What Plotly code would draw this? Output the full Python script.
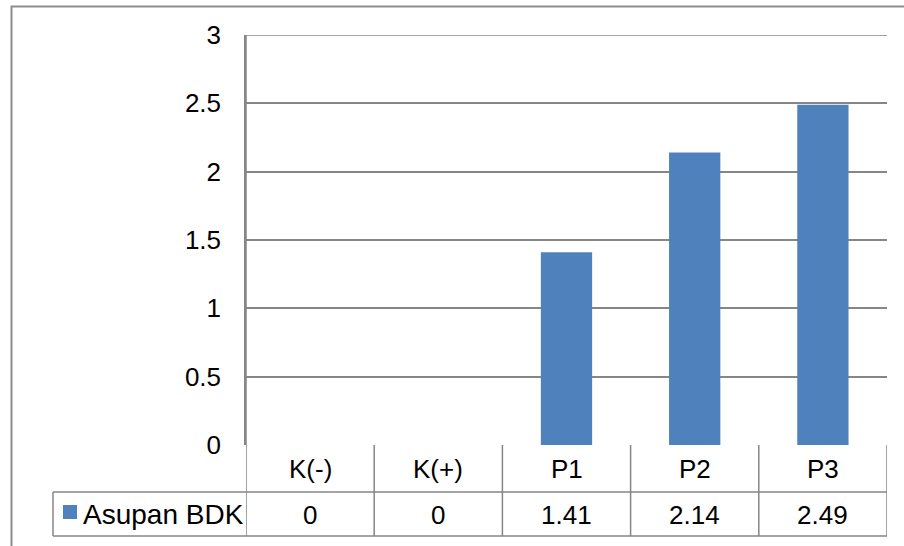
import plotly.graph_objects as go

# Data
categories = ["K(-)", "K(+)", "P1", "P2", "P3"]
asupan_bdk = [0, 0, 1.41, 2.14, 2.49]
series_name = "Asupan BDK"
y_ticks = [0, 0.5, 1, 1.5, 2, 2.5, 3]

BAR_COLOR = "#4F81BD"
GRID = "#868686"
FONT = "Liberation Sans, Arial, sans-serif"

W, H = 904, 546
L, R, T, B = 246, 17, 35, 101
plot_h = H - T - B


def py(px):
    """Convert a pixel row (from the top) to paper y."""
    return (H - B - px) / plot_h


def pxx(px):
    """Convert a pixel column to paper x."""
    return (px - L) / (W - L - R)


fig = go.Figure(
    go.Bar(
        x=categories,
        y=asupan_bdk,
        width=0.4,
        marker=dict(color=BAR_COLOR, line=dict(width=0)),
        name=series_name,
        showlegend=False,
    )
)

shapes = []
annotations = []

# Outer chart frame
shapes.append(dict(type="rect", xref="paper", yref="paper",
                   x0=pxx(11.5), x1=pxx(W + 20), y0=py(H + 20), y1=py(6.5),
                   line=dict(color="#8C8C8C", width=2), fillcolor="rgba(0,0,0,0)",
                   layer="below"))

# Gridline at the top of the value range
shapes.append(dict(type="line", xref="paper", yref="y",
                   x0=0, x1=1, y0=y_ticks[-1], y1=y_ticks[-1],
                   line=dict(color=GRID, width=1.5)))

row1_bottom = py(492)
row2_bottom = py(536)
n = len(categories)

# Data table: horizontal rules
for yv in (row1_bottom, row2_bottom):
    shapes.append(dict(type="line", xref="paper", yref="paper",
                       x0=pxx(53), x1=1, y0=yv, y1=yv,
                       line=dict(color=GRID, width=1.5)))
# Data table: vertical rules between categories
for i in range(n + 1):
    shapes.append(dict(type="line", xref="x", yref="paper",
                       x0=i - 0.5, x1=i - 0.5,
                       y0=row2_bottom, y1=0 if i else 1,
                       line=dict(color=GRID, width=1.5)))
# Left edge of the legend cell
shapes.append(dict(type="line", xref="paper", yref="paper",
                   x0=pxx(53), x1=pxx(53), y0=row2_bottom, y1=row1_bottom,
                   line=dict(color=GRID, width=1.5)))

# Legend key
shapes.append(dict(type="rect", xref="paper", yref="paper",
                   x0=pxx(63), x1=pxx(77), y0=py(519), y1=py(505),
                   line=dict(width=0), fillcolor=BAR_COLOR))
annotations.append(dict(xref="paper", yref="paper", x=pxx(81), y=py(514),
                        text=series_name, showarrow=False, xanchor="left",
                        yanchor="middle", font=dict(size=28, color="black", family=FONT)))

# Category labels and values in the table
for cat, v in zip(categories, asupan_bdk):
    annotations.append(dict(xref="x", yref="paper", x=cat, y=py(469),
                            text=cat, showarrow=False, yanchor="middle",
                            font=dict(size=26, color="black", family=FONT)))
    annotations.append(dict(xref="x", yref="paper", x=cat, y=py(515),
                            text=f"{v:g}", showarrow=False, yanchor="middle",
                            font=dict(size=26, color="black", family=FONT)))

fig.update_layout(
    width=W, height=H,
    margin=dict(l=L, r=R, t=T, b=B, pad=0),
    paper_bgcolor="white", plot_bgcolor="white",
    font=dict(family=FONT, size=26, color="black"),
    bargap=0.6,
    shapes=shapes,
    annotations=annotations,
    xaxis=dict(showticklabels=False, showgrid=False, zeroline=False,
               showline=False, ticks="", range=[-0.5, n - 0.5]),
    yaxis=dict(range=[0, 3], tickvals=y_ticks, ticktext=[f"{t:g}" for t in y_ticks],
               showgrid=True, gridcolor=GRID, gridwidth=1.5,
               zeroline=False, showline=True, linecolor=GRID, linewidth=1.5,
               ticks="", ticklabelstandoff=18,
               tickfont=dict(size=26, color="black", family=FONT)),
)

fig.write_html("out.html")
